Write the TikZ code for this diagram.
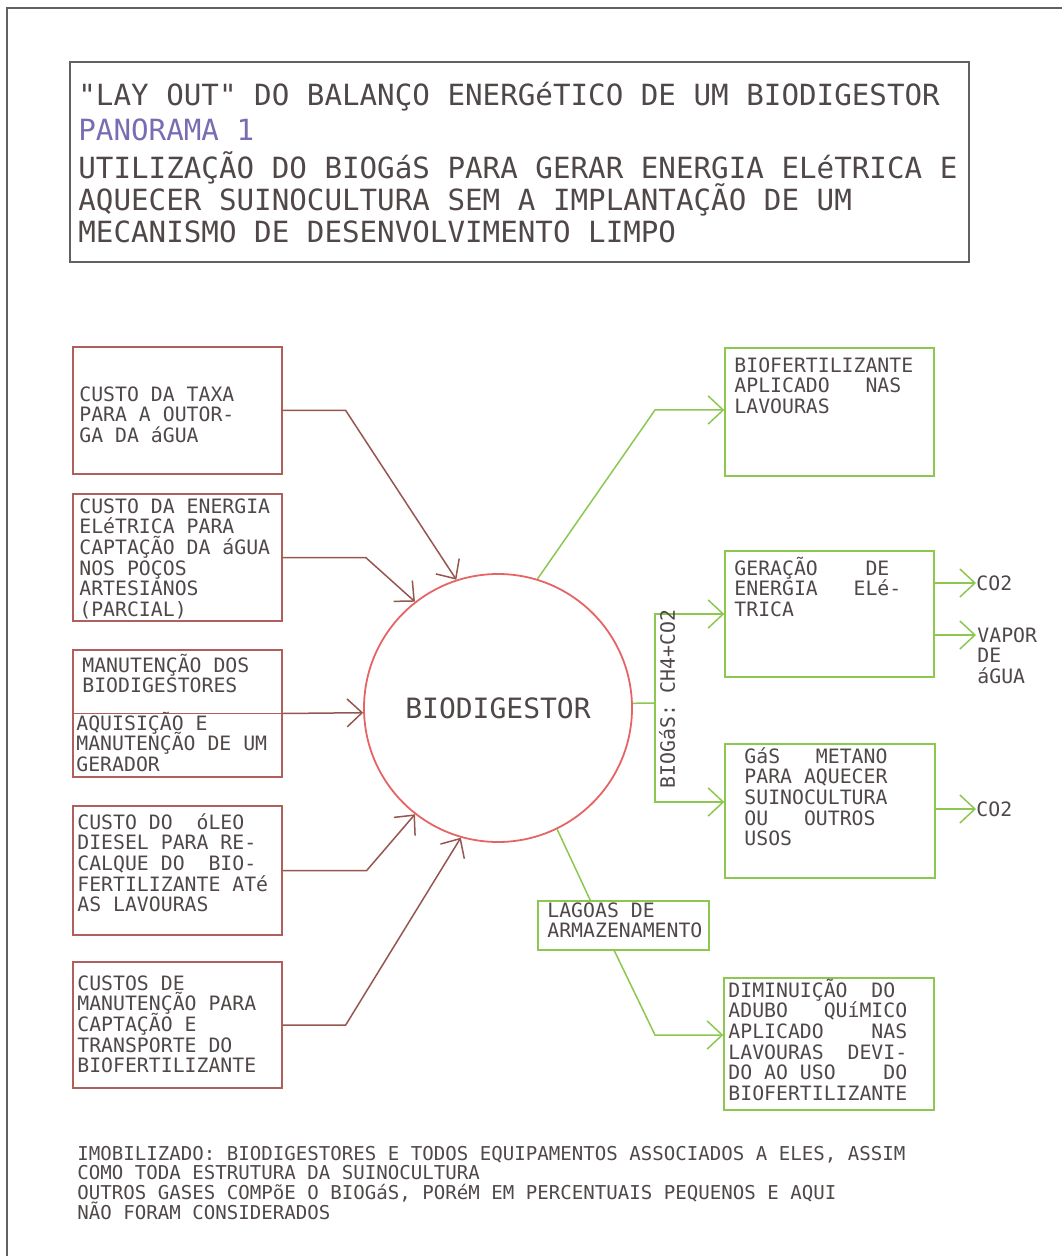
\documentclass[tikz,border=0pt]{standalone}
\usepackage{fontspec}
\setmainfont{DejaVu Sans Mono}
\newfontfamily\qfont{DejaVu Sans Mono}
\usetikzlibrary{arrows.meta,calc,fit}
\definecolor{ink}{RGB}{80,72,72}
\definecolor{frame}{RGB}{100,96,96}
\definecolor{boxred}{RGB}{176,96,92}
\definecolor{arrbrown}{RGB}{150,86,80}
\definecolor{ringred}{RGB}{230,100,100}
\definecolor{leaf}{RGB}{140,200,80}
\definecolor{pano}{RGB}{122,108,178}
% text sizes (1 unit of the grid = 0.5pt)
\newcommand\ttlfont{\fontsize{14.6pt}{16pt}\selectfont}
\newcommand\boxfont{\fontsize{9.9pt}{10.35pt}\selectfont}
\newcommand\notefont{\fontsize{9.55pt}{9.85pt}\selectfont}
% stacked lines with a fixed baseline distance
\newcommand\lns[1]{\parbox[t]{22cm}{\lineskiplimit=-50pt\lineskip=0pt\relax #1}}
% straight double quote
\newcommand\dq{{\qfont\symbol{34}}}
\frenchspacing
\begin{document}
\begin{tikzpicture}[x=0.5pt,y=-0.5pt,
  txt/.style={anchor=base west,inner sep=0pt,text=ink,font=\boxfont},
  ttl/.style={anchor=base west,inner sep=0pt,text=ink,font=\ttlfont},
  note/.style={anchor=base west,inner sep=0pt,text=ink,font=\notefont},
  costbox/.style={draw=boxred,line width=0.7pt,inner sep=0pt},
  gainbox/.style={draw=leaf,line width=0.7pt,inner sep=0pt},
  tip/.style={-{Straight Barb[length=7.5pt,width=14pt]}},
  rarrow/.style={draw=arrbrown,line width=0.75pt,tip},
  gline/.style={draw=leaf,line width=0.75pt},
  garrow/.style={gline,tip}]
\useasboundingbox (0,0) rectangle (1062,1256);

% sheet frame
\draw[frame,line width=0.6pt] (7,1256) -- (7,8) -- (1062,8);

% heading
\node[draw=frame,line width=0.6pt,inner sep=0pt,fit={(70,62) (969,262)}] (tb) {};
\node[ttl] (tt1) at (78,106) {\dq LAY OUT\dq{} DO BALANÇO ENERGéTICO DE UM BIODIGESTOR};
\node[ttl,text=pano] (tt2) at (78,141) {PANORAMA 1};
\node[ttl] (tt3) at (78,179) {\lns{UTILIZAÇÃO DO BIOGáS PARA GERAR ENERGIA ELéTRICA E\\AQUECER SUINOCULTURA SEM A IMPLANTAÇÃO DE UM\\MECANISMO DE DESENVOLVIMENTO LIMPO}};

% digester
\node[circle,draw=ringred,line width=0.9pt,minimum size=134pt,inner sep=0pt,
      text=ink,font=\fontsize{14pt}{16pt}\selectfont] (bd) at (498,708) {BIODIGESTOR};

% cost boxes
\node[costbox,fit={(73,347) (282,474)}] (b1) {};
\node[costbox,fit={(73,494) (282,621)}] (b2) {};
\node[costbox,fit={(73,650) (282,777)}] (b3) {};
\draw[boxred,line width=0.7pt] (b3.west) -- (b3.east);
\node[costbox,fit={(73,806) (282,935)}] (b4) {};
\node[costbox,fit={(73,962) (282,1088)}] (b5) {};

\node[txt] (b1t) at (79,401) {\lns{CUSTO DA TAXA\\PARA A OUTOR-\\GA DA áGUA}};
\node[txt] (b2t) at (79,513) {\lns{CUSTO DA ENERGIA\\ELéTRICA PARA\\CAPTAÇÃO DA áGUA\\NOS POÇOS\\ARTESIANOS\\(PARCIAL)}};
\node[txt] (b3t) at (82,672) {\lns{MANUTENÇÃO DOS\\BIODIGESTORES}};
\node[txt] (b3u) at (76,730) {\lns{AQUISIÇÃO E\\MANUTENÇÃO DE UM\\GERADOR}};
\node[txt] (b4t) at (77,829) {\lns{CUSTO DO~~óLEO\\DIESEL PARA RE-\\CALQUE DO~~BIO-\\FERTILIZANTE ATé\\AS LAVOURAS}};
\node[txt] (b5t) at (77,990) {\lns{CUSTOS DE\\MANUTENÇÃO PARA\\CAPTAÇÃO E\\TRANSPORTE DO\\BIOFERTILIZANTE}};

% cost inputs into the digester
\draw[rarrow] (b1.east) -- ++(63,0) -- (bd.108);
\draw[rarrow] (b2.east) -- ++(83,0) -- (bd.128);
\draw[rarrow] (b3.east) -- (bd.182);
\draw[rarrow] (b4.east) -- ++(84,0) -- (bd.232);
\draw[rarrow] (b5.east) -- ++(63,0) -- (bd.254);

% products
\node[gainbox,fit={(725,348) (934,476)}] (bf) {};
\node[gainbox,fit={(725,551) (934,677)}] (ge) {};
\node[gainbox,fit={(725,744) (935,878)}] (gs) {};
\node[gainbox,fit={(538,901) (709,950)}] (lg) {};
\node[gainbox,fit={(724,978) (934,1110)}] (dm) {};

\node[txt] (bft) at (734,372) {\lns{BIOFERTILIZANTE\\APLICADO~~~NAS\\LAVOURAS}};
\node[txt] (get) at (734,575) {\lns{GERAÇÃO~~~~DE\\ENERGIA~~~ELé-\\TRICA}};
\node[txt] (gst) at (744,763) {\lns{GáS~~~METANO\\PARA AQUECER\\SUINOCULTURA\\OU~~~OUTROS\\USOS}};
\node[txt] (lgt) at (547,917) {\lns{LAGOAS DE\\ARMAZENAMENTO}};
\node[txt] (dmt) at (728,997) {\lns{DIMINUIÇÃO~~DO\\ADUBO~~~QUíMICO\\APLICADO~~~~NAS\\LAVOURAS~~DEVI-\\DO~AO~USO~~~~DO\\BIOFERTILIZANTE}};

% biofertilizer branch
\coordinate (k1) at (655,410);
\draw[garrow] (bd.73) -- (k1) -- (k1 -| bf.west);

% biogas bus
\coordinate (bj) at (655,703);
\coordinate (kg) at (655,802);
\draw[gline] (bd.2) -- (bj);
\draw[garrow] (bj) |- (ge.west);
\draw[garrow] (bj) -- (kg) -- (kg -| gs.west);
\node[txt,anchor=center,rotate=90] (bg) at (667,699) {BIOGáS: CH4+CO2};

% exhaust outputs
\node[txt,anchor=west] (co1) at (976,583) {CO2};
\node[txt] (vp) at (977,642) {\lns{VAPOR\\DE\\áGUA}};
\node[txt,anchor=west] (co2) at (976,809) {CO2};
\draw[garrow] (ge.east |- co1.west) -- (co1.west);
\coordinate (vpin) at (976,635);
\draw[garrow] (ge.east |- vpin) -- (vpin);
\draw[garrow] (gs.east |- co2.west) -- (co2.west);

% storage ponds branch
\coordinate (k3) at (655,1035);
\draw[gline] (bd.296) -- ($(lg.north west)+(53,0)$);
\draw[garrow] ($(lg.south west)+(77,0)$) -- (k3) -- (k3 -| dm.west);

% notes
\node[note] (nt) at (77,1160) {\lns{IMOBILIZADO: BIODIGESTORES E TODOS EQUIPAMENTOS ASSOCIADOS A ELES, ASSIM\\COMO TODA ESTRUTURA DA SUINOCULTURA\\OUTROS GASES COMPõE O BIOGáS, PORéM EM PERCENTUAIS PEQUENOS E AQUI\\NÃO FORAM CONSIDERADOS}};
\end{tikzpicture}
\end{document}
